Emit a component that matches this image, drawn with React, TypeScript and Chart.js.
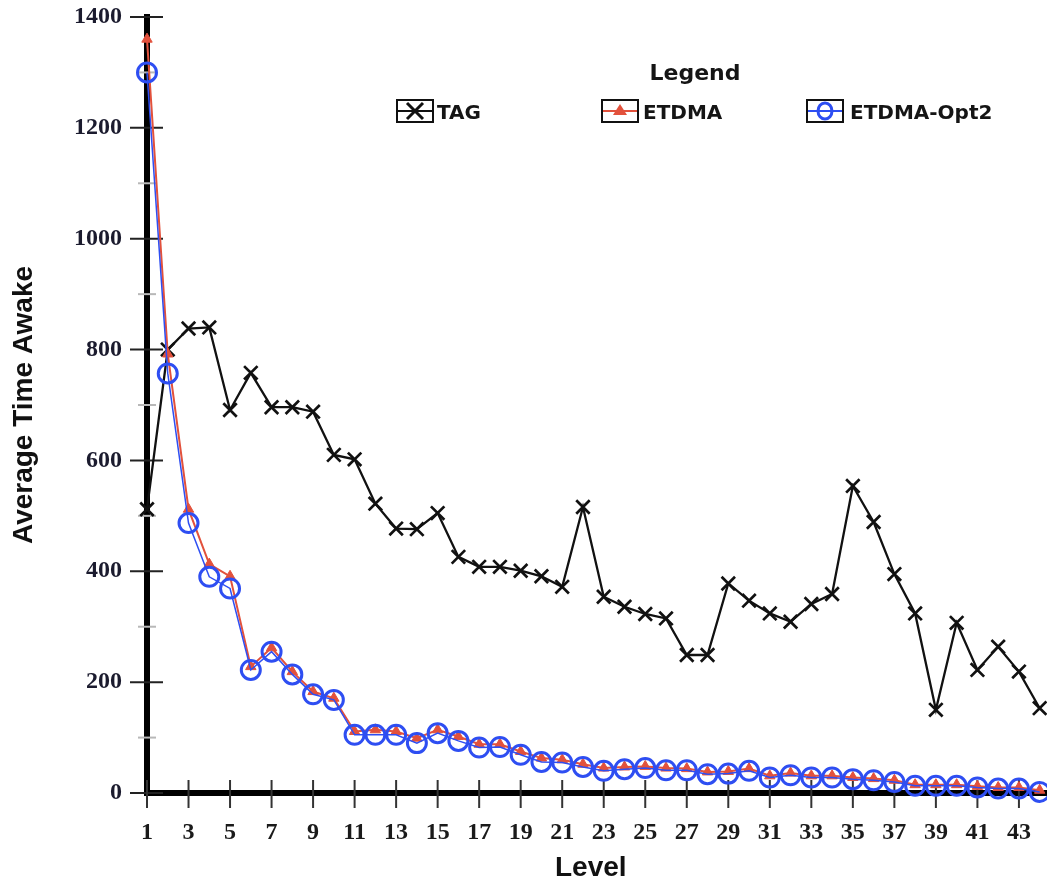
import { useEffect, useRef } from 'react';
import { Chart, registerables } from 'chart.js';

Chart.register(...registerables);

const levels = [1, 2, 3, 4, 5, 6, 7, 8, 9, 10, 11, 12, 13, 14, 15, 16, 17, 18, 19, 20, 21, 22, 23, 24, 25, 26, 27, 28, 29, 30, 31, 32, 33, 34, 35, 36, 37, 38, 39, 40, 41, 42, 43, 44];

const tagValues = [512, 800, 838, 840, 691, 758, 696, 696, 688, 610, 602, 522, 477, 476, 505, 426, 408, 408, 401, 391, 372, 516, 354, 336, 323, 315, 249, 249, 378, 347, 324, 309, 341, 359, 554, 489, 395, 324, 150, 307, 222, 264, 219, 153];

const etdmaValues = [1360, 792, 512, 413, 391, 228, 262, 219, 183, 171, 111, 114, 111, 99, 114, 102, 88, 88, 75, 63, 60, 52, 45, 47, 48, 45, 44, 38, 39, 44, 31, 36, 31, 31, 28, 26, 23, 15, 15, 15, 12, 10, 10, 5];

const etdmaOpt2Values = [1300, 757, 487, 390, 369, 222, 255, 214, 178, 168, 105, 105, 105, 90, 108, 94, 82, 83, 69, 56, 55, 47, 40, 43, 45, 41, 41, 34, 35, 40, 28, 32, 28, 28, 25, 23, 20, 13, 13, 13, 10, 8, 8, 2];

const seriesNames = ['TAG', 'ETDMA', 'ETDMA-Opt2'];

const xTickValues = [1, 3, 5, 7, 9, 11, 13, 15, 17, 19, 21, 23, 25, 27, 29, 31, 33, 35, 37, 39, 41, 43];
const yTickValues = [0, 100, 200, 300, 400, 500, 600, 700, 800, 900, 1000, 1100, 1200, 1300, 1400];
const yLabelStep = 200;

const xTitle = 'Level';
const yTitle = 'Average Time Awake';
const legendTitle = 'Legend';

const RED = '#e2513c';
const BLUE = '#2e4ef2';

const axisTicksPlugin = {
  id: 'axisTicks',
  beforeDatasetsDraw(chart: any) {
    const { ctx, chartArea, scales } = chart;
    const ys = scales.y;
    const xs = scales.x;
    ctx.save();
    // continue the x axis line to the canvas edge
    ctx.beginPath();
    ctx.lineWidth = 6;
    ctx.strokeStyle = '#000000';
    ctx.moveTo(chartArea.right - 1, chartArea.bottom);
    ctx.lineTo(chart.width, chartArea.bottom);
    ctx.stroke();
    ys.ticks.forEach((t: any) => {
      const py = ys.getPixelForValue(t.value);
      const major = t.value % yLabelStep === 0;
      ctx.beginPath();
      ctx.lineWidth = 2;
      ctx.strokeStyle = major ? '#222' : '#b8b8b8';
      const out = major ? 17 : 9;
      const inn = major ? 16 : 9;
      ctx.moveTo(chartArea.left - out, py);
      ctx.lineTo(chartArea.left + inn, py);
      ctx.stroke();
    });
    xs.ticks.forEach((t: any) => {
      const px = xs.getPixelForValue(t.value);
      ctx.beginPath();
      ctx.lineWidth = 2;
      ctx.strokeStyle = '#333';
      ctx.moveTo(px, chartArea.bottom - 13);
      ctx.lineTo(px, chartArea.bottom + 15);
      ctx.stroke();
    });
    ctx.restore();
  },
};

const legendPlugin = {
  id: 'boxLegend',
  afterDraw(chart: any) {
    const { ctx } = chart;
    ctx.save();
    ctx.fillStyle = '#151515';
    ctx.font = 'bold 22px "DejaVu Sans"';
    ctx.textAlign = 'center';
    ctx.textBaseline = 'alphabetic';
    ctx.fillText(legendTitle, 695, 80);

    const slots = [
      { bx: 397, tx: 437 },
      { bx: 602, tx: 643 },
      { bx: 807, tx: 850 },
    ];
    const bw = 36;
    const bh = 22;
    const by = 100;
    chart.data.datasets.forEach((ds: any, i: number) => {
      const s = slots[i];
      const cx = s.bx + bw / 2;
      const cy = by + bh / 2;
      ctx.fillStyle = '#ffffff';
      ctx.fillRect(s.bx, by, bw, bh);
      ctx.beginPath();
      ctx.strokeStyle = ds.borderColor;
      ctx.lineWidth = 2;
      ctx.moveTo(s.bx, cy);
      ctx.lineTo(s.bx + bw, cy);
      ctx.stroke();
      if (ds.pointStyle === 'crossRot') {
        ctx.beginPath();
        ctx.lineWidth = 3;
        ctx.strokeStyle = ds.pointBorderColor;
        ctx.moveTo(cx - 8, cy - 8);
        ctx.lineTo(cx + 8, cy + 8);
        ctx.moveTo(cx + 8, cy - 8);
        ctx.lineTo(cx - 8, cy + 8);
        ctx.stroke();
      } else if (ds.pointStyle === 'triangle') {
        ctx.beginPath();
        ctx.fillStyle = ds.pointBackgroundColor;
        ctx.moveTo(cx, cy - 7);
        ctx.lineTo(cx + 7, cy + 4);
        ctx.lineTo(cx - 7, cy + 4);
        ctx.closePath();
        ctx.fill();
      } else {
        ctx.beginPath();
        ctx.lineWidth = 3;
        ctx.strokeStyle = ds.pointBorderColor;
        ctx.ellipse(cx, cy, 7, 8, 0, 0, Math.PI * 2);
        ctx.stroke();
      }
      ctx.beginPath();
      ctx.lineWidth = 2;
      ctx.strokeStyle = '#111';
      ctx.strokeRect(s.bx, by, bw, bh);
      ctx.fillStyle = '#151515';
      ctx.font = 'bold 20px "DejaVu Sans"';
      ctx.textAlign = 'left';
      ctx.fillText(ds.label, s.tx, 119);
    });
    ctx.restore();
  },
};

export default function App() {
  const canvasRef = useRef<HTMLCanvasElement | null>(null);

  useEffect(() => {
    if (!canvasRef.current) return;
    const toPoints = (vals: number[]) => levels.map((lv, i) => ({ x: lv, y: vals[i] }));
    const chart = new Chart(canvasRef.current, {
      type: 'line',
      data: {
        datasets: [
          {
            label: seriesNames[0],
            data: toPoints(tagValues),
            borderColor: '#111111',
            borderWidth: 2.3,
            pointStyle: 'crossRot',
            pointRadius: 9.5,
            pointBorderWidth: 2.7,
            pointBorderColor: '#111111',
            pointBackgroundColor: '#111111',
            tension: 0,
            order: 3,
            clip: false,
          },
          {
            label: seriesNames[1],
            data: toPoints(etdmaValues),
            borderColor: RED,
            borderWidth: 2,
            pointStyle: 'triangle',
            pointRadius: 6,
            pointBorderWidth: 1,
            pointBorderColor: RED,
            pointBackgroundColor: RED,
            tension: 0,
            order: 2,
            clip: false,
          },
          {
            label: seriesNames[2],
            data: toPoints(etdmaOpt2Values),
            borderColor: BLUE,
            borderWidth: 1.5,
            pointStyle: 'circle',
            pointRadius: 9.5,
            pointBorderWidth: 3,
            pointBorderColor: BLUE,
            pointBackgroundColor: 'rgba(0,0,0,0)',
            tension: 0,
            order: 1,
            clip: false,
          },
        ] as any,
      },
      options: {
        animation: false,
        responsive: true,
        maintainAspectRatio: false,
        layout: { padding: { top: 17, right: 0, bottom: 0, left: 0 } },
        plugins: {
          legend: { display: false },
          tooltip: { enabled: false },
        },
        scales: {
          x: {
            type: 'linear',
            min: 1,
            max: 43.75,
            bounds: 'data',
            afterBuildTicks: (scale: any) => {
              scale.ticks = xTickValues.map((v) => ({ value: v }));
            },
            afterFit: (scale: any) => {
              scale.height = 93;
              scale.paddingLeft = 0;
              scale.paddingRight = 0;
            },
            grid: { display: true, drawOnChartArea: false, drawTicks: false, color: 'rgba(0,0,0,0)' },
            border: { display: true, color: '#000000', width: 6 },
            ticks: {
              autoSkip: false,
              maxRotation: 0,
              padding: 25,
              color: '#1a1a1a',
              font: { family: '"Liberation Serif", "Times New Roman", serif', weight: 'bold', size: 24 },
              callback: (v: any) => String(v),
            },
            title: {
              display: true,
              text: xTitle,
              color: '#111111',
              font: { family: '"Liberation Sans", Arial, sans-serif', weight: 'bold', size: 28 },
              padding: { top: 0, bottom: 1 },
            },
          },
          y: {
            type: 'linear',
            min: 0,
            max: 1400,
            afterBuildTicks: (scale: any) => {
              scale.ticks = yTickValues.map((v) => ({ value: v }));
            },
            afterFit: (scale: any) => {
              scale.width = 147;
              scale.paddingTop = 0;
              scale.paddingBottom = 0;
            },
            grid: { display: true, drawOnChartArea: false, drawTicks: false, color: 'rgba(0,0,0,0)' },
            border: { display: true, color: '#000000', width: 6 },
            ticks: {
              autoSkip: false,
              padding: 25,
              color: '#1b1b2e',
              font: { family: '"Liberation Serif", "Times New Roman", serif', weight: 'bold', size: 24 },
              callback: (v: any) => (Number(v) % yLabelStep === 0 ? String(v) : ''),
            },
            title: {
              display: true,
              text: yTitle,
              color: '#111111',
              font: { family: '"Liberation Sans", Arial, sans-serif', weight: 'bold', size: 28 },
              padding: { top: 7, bottom: 0 },
            },
          },
        },
      },
      plugins: [axisTicksPlugin, legendPlugin],
    });
    return () => chart.destroy();
  }, []);

  return (
    <div style={{ position: 'absolute', left: 0, top: 0, width: 1047, height: 886, background: '#ffffff' }}>
      <canvas ref={canvasRef} />
    </div>
  );
}
